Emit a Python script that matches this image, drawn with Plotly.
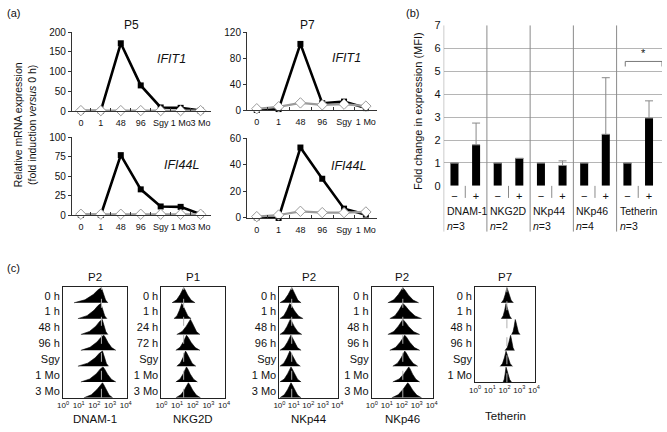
import plotly.graph_objects as go

W, H = 667, 432
FONT = "Liberation Sans, Arial, Helvetica, sans-serif"

# ---------------- (a) data ----------------
TIME_P5 = ["0", "1", "48", "96", "Sgy", "1 Mo", "3 Mo"]
TIME_P7 = ["0", "1", "48", "96", "Sgy", "1 Mo"]
P5_IFIT1_BLACK = [0, 0.5, 172, 65, 9, 8, 1]
P5_IFIT1_GRAY = [1, 1, 1, 1, 1, 1, 1]
P7_IFIT1_BLACK = [0, 1.5, 102, 10.5, 13, 3]
P7_IFIT1_GRAY = [2, 5, 11, 8, 9, 6]
P5_IFI44L_BLACK = [0, 0, 77, 33, 11, 10.5, 1]
P5_IFI44L_GRAY = [1, 1, 1, 1, 1, 1, 1]
P7_IFI44L_BLACK = [0.5, 0, 53, 29.5, 7, 2.5]
P7_IFI44L_GRAY = [1, 2.2, 5, 4, 4, 4.5]

# ---------------- (b) data ----------------
GROUPS = ["DNAM-1", "NKG2D", "NKp44", "NKp46", "Tetherin"]
N_LABELS = ["3", "2", "3", "4", "3"]
SIGNS = ["\u2212", "+"]
FOLD = [1, 1.79, 1, 1.2, 1, 0.89, 1, 2.25, 1, 2.96]
ERR_UP = [0, 0.95, 0, 0, 0, 0.2, 0, 2.47, 0, 0.75]
SIG_PAIR = (8, 9)
SIG_LEVEL = 5.43

# ---------------- (c) data (log10 fluorescence: left foot, peak, right foot) ----------------
ROWS7 = ["0 h", "1 h", "48 h", "96 h", "Sgy", "1 Mo", "3 Mo"]
ROWS_NKG2D = ["0 h", "1 h", "24 h", "72 h", "Sgy", "1 Mo", "3 Mo"]
ROWS_TETH = ["0 h", "1 h", "48 h", "96 h", "Sgy", "1 Mo"]
HIST_TITLES = ["P2", "P1", "P2", "P2", "P7"]
HIST_MARKERS = ["DNAM-1", "NKG2D", "NKp44", "NKp46", "Tetherin"]
DNAM1_HIST = [[0.7, 2.45, 2.86], [0.95, 2.41, 2.8], [1.14, 2.5, 2.86], [1.14, 2.6, 3.37],
              [0.95, 2.52, 2.9], [1.14, 2.55, 3.37], [1.33, 2.52, 3.17]]
NKG2D_HIST = [[0.68, 1.42, 2.15], [0.8, 1.3, 1.9], [0.98, 1.85, 2.46], [0.92, 1.6, 2.46],
              [0.98, 1.54, 2.2], [0.92, 1.6, 2.3], [0.92, 1.72, 2.5]]
NKP44_HIST = [[0.03, 0.85, 1.5], [0.03, 0.72, 1.64], [0.03, 0.75, 1.55], [0.03, 0.79, 1.5],
              [0.03, 0.72, 1.45], [0.03, 0.8, 1.5], [0.03, 0.8, 1.5]]
NKP46_HIST = [[1.07, 2.07, 3.13], [1.2, 2.07, 3.33], [1.07, 2.07, 3.2], [1.2, 2.2, 3.2],
              [1.4, 2.2, 3.07], [1.4, 2.47, 3.2], [1.33, 2.4, 3.33]]
TETH_HIST = [[1.78, 2.16, 2.6], [1.78, 2.1, 2.48], [2.48, 2.73, 3.05], [2.03, 2.41, 2.67],
             [1.71, 2.1, 2.54], [1.9, 2.1, 2.48]]
DECADES = [0, 1, 2, 3, 4]


def px(x):
    return x / W


def py(y):
    return 1 - y / H


fig = go.Figure()
annotations = []
shapes = []


def ann(text, x, y, size=11, italic=False, family=FONT, **kw):
    if italic:
        text = "<i>" + text + "</i>"
    d = dict(text=text, x=px(x), y=py(y), xref="paper", yref="paper", showarrow=False,
             font=dict(family=family, size=size, color="#111"), xanchor="center", yanchor="middle")
    d.update(kw)
    annotations.append(d)


# ---------------- (a) line plots ----------------
line_panels = [
    (1, TIME_P5, P5_IFIT1_BLACK, P5_IFIT1_GRAY, [0, 200], [0, 50, 100, 150, 200], (67, 208), (27, 108), "IFIT1", (168, 54)),
    (2, TIME_P7, P7_IFIT1_BLACK, P7_IFIT1_GRAY, [0, 120], [0, 40, 80, 120], (245, 377), (27, 107), "IFIT1", (346, 53)),
    (3, TIME_P5, P5_IFI44L_BLACK, P5_IFI44L_GRAY, [0, 100], [0, 25, 50, 75, 100], (67, 208), (135, 215), "IFI44L", (178, 164)),
    (4, TIME_P7, P7_IFI44L_BLACK, P7_IFI44L_GRAY, [0, 60], [0, 20, 40, 60], (245, 377), (136, 218), "IFI44L", (348, 165)),
]
for idx, cats, blk, gry, yr, ytv, xd, yd, gene, gpos in line_panels:
    xa = "x%d" % idx
    ya = "y%d" % idx
    fig.add_trace(go.Scatter(x=cats, y=blk, xaxis=xa, yaxis=ya, mode="lines+markers",
                             line=dict(color="#000", width=2.6),
                             marker=dict(symbol="square", size=6, color="#000"), cliponaxis=False))
    fig.add_trace(go.Scatter(x=cats, y=gry, xaxis=xa, yaxis=ya, mode="lines+markers",
                             line=dict(color="#9a9a9a", width=2.2),
                             marker=dict(symbol="diamond", size=8, color="#fff",
                                         line=dict(color="#9a9a9a", width=1)), cliponaxis=False))
    n = len(cats)
    fig.update_layout(**{
        ("xaxis%d" % idx): dict(domain=[px(xd[0]), px(xd[1])], anchor=ya, type="category",
                                categoryorder="array", categoryarray=cats,
                                range=[-0.45, n - 0.5], showline=True, linecolor="#333", linewidth=1,
                                ticks="inside", tickson="boundaries", ticklen=3, tickcolor="#333",
                                showgrid=False, zeroline=False, tickangle=0, ticklabelstandoff=3,
                                tickfont=dict(family=FONT, size=9, color="#111")),
        ("yaxis%d" % idx): dict(domain=[py(yd[1]), py(yd[0])], anchor=xa, range=yr,
                                tickvals=ytv, showline=True, linecolor="#333", linewidth=1,
                                ticks="outside", ticklen=3, tickcolor="#333",
                                showgrid=False, zeroline=False,
                                tickfont=dict(family=FONT, size=10, color="#111")),
    })
    ann(gene, gpos[0], gpos[1], size=12.5, italic=True)

ann("(a)", 8, 7, size=11)
ann("P5", 128, 20, size=12)
ann("P7", 307, 20, size=12)
ann("Relative mRNA expression<br>(fold induction <i>versus</i> 0 h)", 19, 122, size=10.5, textangle=-90)

# ---------------- (b) bar chart ----------------
xpos = list(range(len(FOLD)))
fig.add_trace(go.Bar(x=xpos, y=FOLD, xaxis="x5", yaxis="y5", width=0.37,
                     marker=dict(color="#000", line=dict(width=0)),
                     error_y=dict(type="data", symmetric=False, array=ERR_UP,
                                  arrayminus=[0] * len(FOLD), color="#888", thickness=1, width=4)))
tick_text = [SIGNS[i % 2] for i in xpos]
fig.update_layout(
    xaxis5=dict(domain=[px(445), px(667)], anchor="y5", range=[-0.5, 9.6], tickvals=xpos,
                ticktext=tick_text, showline=False, showgrid=False, zeroline=False, ticks="",
                ticklabelstandoff=2,
                tickfont=dict(family=FONT, size=11, color="#111")),
    yaxis5=dict(domain=[py(185), py(20)], anchor="x5", range=[0, 7.001], dtick=1,
                showgrid=True, gridcolor="#b5b5b5", gridwidth=1, zeroline=False, showline=False,
                ticks="", ticklabelstandoff=2, tickfont=dict(family=FONT, size=11, color="#111")),
)
# axis separators
for g in range(len(GROUPS)):
    left = 2 * g - 0.5
    shapes.append(dict(type="line", xref="x5", yref="y5 domain", x0=left, x1=left, y0=-0.285, y1=1,
                       line=dict(color="#8a8a8a", width=1)))
    mid = 2 * g + 0.5
    shapes.append(dict(type="line", xref="x5", yref="y5 domain", x0=mid, x1=mid, y0=-0.075, y1=0,
                       line=dict(color="#8a8a8a", width=1)))
    annotations.append(dict(text=GROUPS[g], x=left, y=py(211), xref="x5", yref="paper", xanchor="left",
                            yanchor="middle", xshift=1, showarrow=False,
                            font=dict(family=FONT, size=10.5, color="#111")))
    annotations.append(dict(text="<i>n</i>=" + N_LABELS[g], x=left, y=py(226), xref="x5", yref="paper",
                            xanchor="left", yanchor="middle", xshift=1, showarrow=False,
                            font=dict(family=FONT, size=10.5, color="#111")))
# significance bracket
b0 = SIG_PAIR[0] - 0.1
b1 = SIG_PAIR[1] + 0.6
shapes.append(dict(type="path", xref="x5", yref="y5",
                   path="M %f %f L %f %f L %f %f L %f %f" % (b0, SIG_LEVEL - 0.22, b0, SIG_LEVEL,
                                                             b1, SIG_LEVEL, b1, SIG_LEVEL - 0.22),
                   line=dict(color="#777", width=1)))
annotations.append(dict(text="*", x=(b0 + b1) / 2, y=SIG_LEVEL + 0.35, xref="x5", yref="y5",
                        showarrow=False, font=dict(family=FONT, size=11, color="#111")))
ann("(b)", 413, 7, size=11)
ann("Fold change in expression (MFI)", 419, 108, size=11, textangle=-90)

# ---------------- (c) histograms ----------------
LEFT_F = [0.0, 0.4, 0.7, 0.88, 1.0]
LEFT_H = [0.0, 0.2, 0.55, 0.87, 1.0]
RIGHT_F = [0.12, 0.35, 0.65, 1.0]
RIGHT_H = [0.87, 0.52, 0.18, 0.0]
PEAK_H = 0.95

hist_panels = [
    (DNAM1_HIST, ROWS7, (58, 123), (289, 403)),
    (NKG2D_HIST, ROWS_NKG2D, (158, 223), (289, 403)),
    (NKP44_HIST, ROWS7, (278, 338), (289, 403)),
    (NKP46_HIST, ROWS7, (372, 434), (289, 403)),
    (TETH_HIST, ROWS_TETH, (477, 538), (289, 387)),
]
for k, (hist, rows, xd, yd) in enumerate(hist_panels):
    idx = 6 + k
    xa = "x%d" % idx
    ya = "y%d" % idx
    nrow = len(rows)
    for i, (L, P, R) in enumerate(hist):
        base = nrow - 1 - i
        xs = [L + f * (P - L) for f in LEFT_F] + [P + g * (R - P) for g in RIGHT_F]
        ys = [base + h * PEAK_H for h in LEFT_H] + [base + h * PEAK_H for h in RIGHT_H]
        fig.add_trace(go.Scatter(x=xs, y=ys, xaxis=xa, yaxis=ya, mode="lines", fill="toself",
                                 fillcolor="#000", line=dict(color="#000", width=0.6)))
    ref = hist[0][1]
    shapes.append(dict(type="line", xref=xa, yref=ya + " domain", x0=ref, x1=ref, y0=0, y1=1,
                       line=dict(color="#b0b0b0", width=1, dash="dash")))
    fig.update_layout(**{
        ("xaxis%d" % idx): dict(domain=[px(xd[0]), px(xd[1])], anchor=ya, range=[0, 4.08],
                                tickvals=DECADES, ticktext=["10<sup>%d</sup>" % d for d in DECADES],
                                showline=True, mirror=True, linecolor="#222", linewidth=1,
                                ticks="", showgrid=False, zeroline=False, tickangle=0,
                                tickfont=dict(family=FONT, size=8, color="#111")),
        ("yaxis%d" % idx): dict(domain=[py(yd[1]), py(yd[0])], anchor=xa, range=[0, nrow],
                                tickvals=[nrow - 1 - i + 0.45 for i in range(nrow)], ticktext=rows,
                                showline=True, mirror=True, linecolor="#222", linewidth=1,
                                ticks="", showgrid=False, zeroline=False,
                                tickfont=dict(family=FONT, size=11, color="#111")),
    })
    ann(HIST_TITLES[k], (xd[0] + xd[1]) / 2, 279, size=11.5)
    ann(HIST_MARKERS[k], (xd[0] + xd[1]) / 2, 425 if k < 4 else 422, size=11.5)

ann("(c)", 8, 269, size=11)

fig.update_layout(width=W, height=H, margin=dict(l=0, r=0, t=0, b=0), autosize=False,
                  showlegend=False, plot_bgcolor="#fff", paper_bgcolor="#fff",
                  annotations=annotations, shapes=shapes)
fig.write_html("out.html", config={"displayModeBar": False},
               post_script="document.body.style.margin='0';document.body.style.padding='0';")
